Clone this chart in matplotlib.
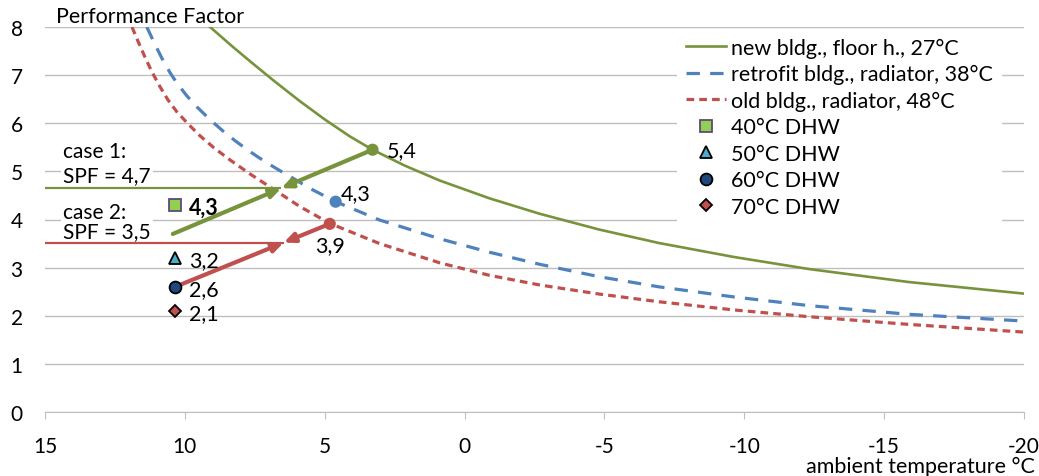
import matplotlib.pyplot as plt
import numpy as np

plt.rcParams['font.family'] = ['Lato', 'DejaVu Sans']
plt.rcParams['axes.unicode_minus'] = False

# --- data ---
# performance factor curves vs. ambient temperature
new_t = [9.1, 9.0, 8.29, 7.57, 6.79, 5.89, 5.0, 4.11, 3.29, 2.14, 0.89, -0.89,
         -2.68, -4.82, -6.96, -9.64, -12.32, -15.89, -20.0]
new_v = [8.0, 7.95, 7.59, 7.24, 6.87, 6.46, 6.08, 5.73, 5.45, 5.12, 4.81, 4.44,
         4.12, 3.79, 3.51, 3.22, 2.97, 2.70, 2.46]

ret_t = [11.36, 11.07, 10.82, 10.54, 10.29, 9.93, 9.57, 9.11, 8.64, 8.21, 7.79,
         7.39, 6.96, 6.5, 6.14, 5.54, 4.61, 3.04, 0.89, -0.89, -2.68, -4.82,
         -6.96, -9.64, -12.32, -15.89, -20.0]
ret_v = [8.0, 7.64, 7.35, 7.06, 6.84, 6.57, 6.34, 6.08, 5.84, 5.64, 5.46, 5.30,
         5.14, 4.98, 4.86, 4.65, 4.37, 3.99, 3.60, 3.32, 3.07, 2.81, 2.60, 2.39,
         2.21, 2.03, 1.89]

old_t = [11.89, 11.68, 11.43, 11.18, 10.89, 10.61, 10.29, 9.89, 9.46, 8.96, 8.39,
         7.68, 6.86, 5.89, 4.82, 3.04, 0.89, -0.89, -2.68, -4.82, -6.96, -9.64,
         -12.32, -15.89, -20.0]
old_v = [8.0, 7.71, 7.38, 7.07, 6.76, 6.49, 6.24, 5.99, 5.74, 5.49, 5.24, 4.95,
         4.64, 4.27, 3.92, 3.50, 3.10, 2.84, 2.64, 2.45, 2.29, 2.12, 1.98, 1.82, 1.66]

curve_names = ['new bldg., floor h., 27°C', 'retrofit bldg., radiator, 38°C',
               'old bldg., radiator, 48°C']

# heating design points on the curves
heat_t = [3.29, 4.61, 4.82]
heat_v = [5.45, 4.37, 3.91]
heat_lbl = ['5,4', '4,3', '3,9']

# domestic hot water points
dhw_t = 10.35
dhw_v = [4.3, 3.2, 2.6, 2.1]
dhw_lbl = ['4,3', '3,2', '2,6', '2,1']
dhw_names = ['40°C DHW', '50°C DHW', '60°C DHW', '70°C DHW']

# cases: start of the DHW leg, heating point index, resulting SPF
case_start_t = [10.43, 10.35]
case_start_v = [3.70, 2.60]
case_heat = [0, 2]
case_spf = [4.65, 3.52]
case_text = [('case 1:', 'SPF = 4,7'), ('case 2:', 'SPF = 3,5')]
case_text_v = [(5.43, 4.93), (4.16, 3.76)]

# --- colours ---
green = '#77933C'
blue = '#4F81BD'
red = '#C0504D'
grid = '#BFBFBF'
curve_cols = [green, blue, red]
dhw_face = ['#92D050', '#4BACC6', '#1F497D', '#C0504D']
dhw_edge = ['#5F497A', 'black', 'black', 'black']
dhw_mark = ['s', '^', 'o', 'D']
dhw_size = [8, 8, 8.5, 6.5]

fig = plt.figure(figsize=(10.39, 4.77), dpi=100)
ax = fig.add_axes([45 / 1039, 1 - 413 / 477, 979 / 1039, 385 / 477])

handles = []
h, = ax.plot(new_t, new_v, color=green, lw=1.9, zorder=3)
handles.append(h)
h, = ax.plot(ret_t, ret_v, color=blue, lw=2.3, dashes=(4.2, 3.2), zorder=3)
handles.append(h)
h, = ax.plot(old_t, old_v, color=red, lw=2.3, dashes=(2.4, 1.6), zorder=3)
handles.append(h)

# heating points + labels
ax.scatter(heat_t, heat_v, s=60, c=curve_cols, zorder=6)
offs = [(10, 0, 'left', 'center'), (4, 6, 'left', 'center'), (0, -15, 'center', 'center')]
for t, v, lbl, (dx, dy, ha, va) in zip(heat_t, heat_v, heat_lbl, offs):
    ax.annotate(lbl, (t, v), xytext=(dx, dy), textcoords='offset points',
                ha=ha, va=va, fontsize=15.5, zorder=7)

# case arrows and SPF lines
for i in range(2):
    c = curve_cols[case_heat[i]]
    t0, v0 = case_start_t[i], case_start_v[i]
    t1, v1 = heat_t[case_heat[i]], heat_v[case_heat[i]]
    spf = case_spf[i]
    frac = (spf - v0) / (v1 - v0)
    ti = t0 + frac * (t1 - t0)
    ax.plot([15, ti], [spf, spf], color=c, lw=1.6, zorder=4, solid_capstyle='butt')
    for (sa, sb) in [((t0, v0), (ti, spf)), ((t1, v1), (ti, spf))]:
        ax.annotate('', xy=sb, xytext=sa, zorder=5,
                    arrowprops=dict(arrowstyle='-|>,head_length=0.45,head_width=0.2',
                                    color=c, lw=3, shrinkA=0, shrinkB=0,
                                    mutation_scale=14))
    for txt, tv in zip(case_text[i], case_text_v[i]):
        ax.text(14.36, tv, txt, fontsize=15, va='center', ha='left', zorder=2,
                bbox=dict(facecolor='white', edgecolor='none', pad=1.5))

# DHW markers
for v, lbl, name, fc, ec, m, ms in zip(dhw_v, dhw_lbl, dhw_names, dhw_face,
                                       dhw_edge, dhw_mark, dhw_size):
    h, = ax.plot([dhw_t], [v], linestyle='none', marker=m, markersize=ms,
                 markerfacecolor=fc, markeredgecolor=ec, markeredgewidth=1.3,
                 zorder=6)
    handles.append(h)
    ax.annotate(lbl, (dhw_t, v), xytext=(10, -1.5), textcoords='offset points',
                ha='left', va='center', fontsize=15.5, zorder=7,
                fontweight='bold' if lbl == dhw_lbl[0] else 'normal')

labels = curve_names + dhw_names
leg = ax.legend(handles, labels, loc='upper right', bbox_to_anchor=(0.9775, 0.995),
                fontsize=15.5, frameon=True, facecolor='white', edgecolor='none',
                framealpha=1, fancybox=False, handlelength=1.86, handletextpad=0.25,
                labelspacing=0.3, borderpad=0.4, borderaxespad=0)
leg.set_zorder(2)

ax.set_xlim(15, -20)
ax.set_ylim(0, 8)
ax.set_xticks(np.arange(15, -21, -5))
ax.set_xticklabels([str(v) for v in range(15, -21, -5)])
ax.set_yticks(range(0, 9))
ax.grid(axis='y', color=grid, lw=1, zorder=0)
ax.set_axisbelow(True)
for s in ['top', 'right', 'left']:
    ax.spines[s].set_visible(False)
ax.spines['bottom'].set_color(grid)
ax.tick_params(axis='y', length=0, pad=16, labelsize=15)
ax.tick_params(axis='x', length=5, color=grid, pad=12, labelsize=15)

fig.text(56 / 1039, 1 - 17 / 477, 'Performance Factor', fontsize=15.5, va='center')
fig.text(1035 / 1039, 1 - 467 / 477, 'ambient temperature °C', fontsize=15.5,
         va='center', ha='right')

fig.savefig('out.png', dpi=100)
